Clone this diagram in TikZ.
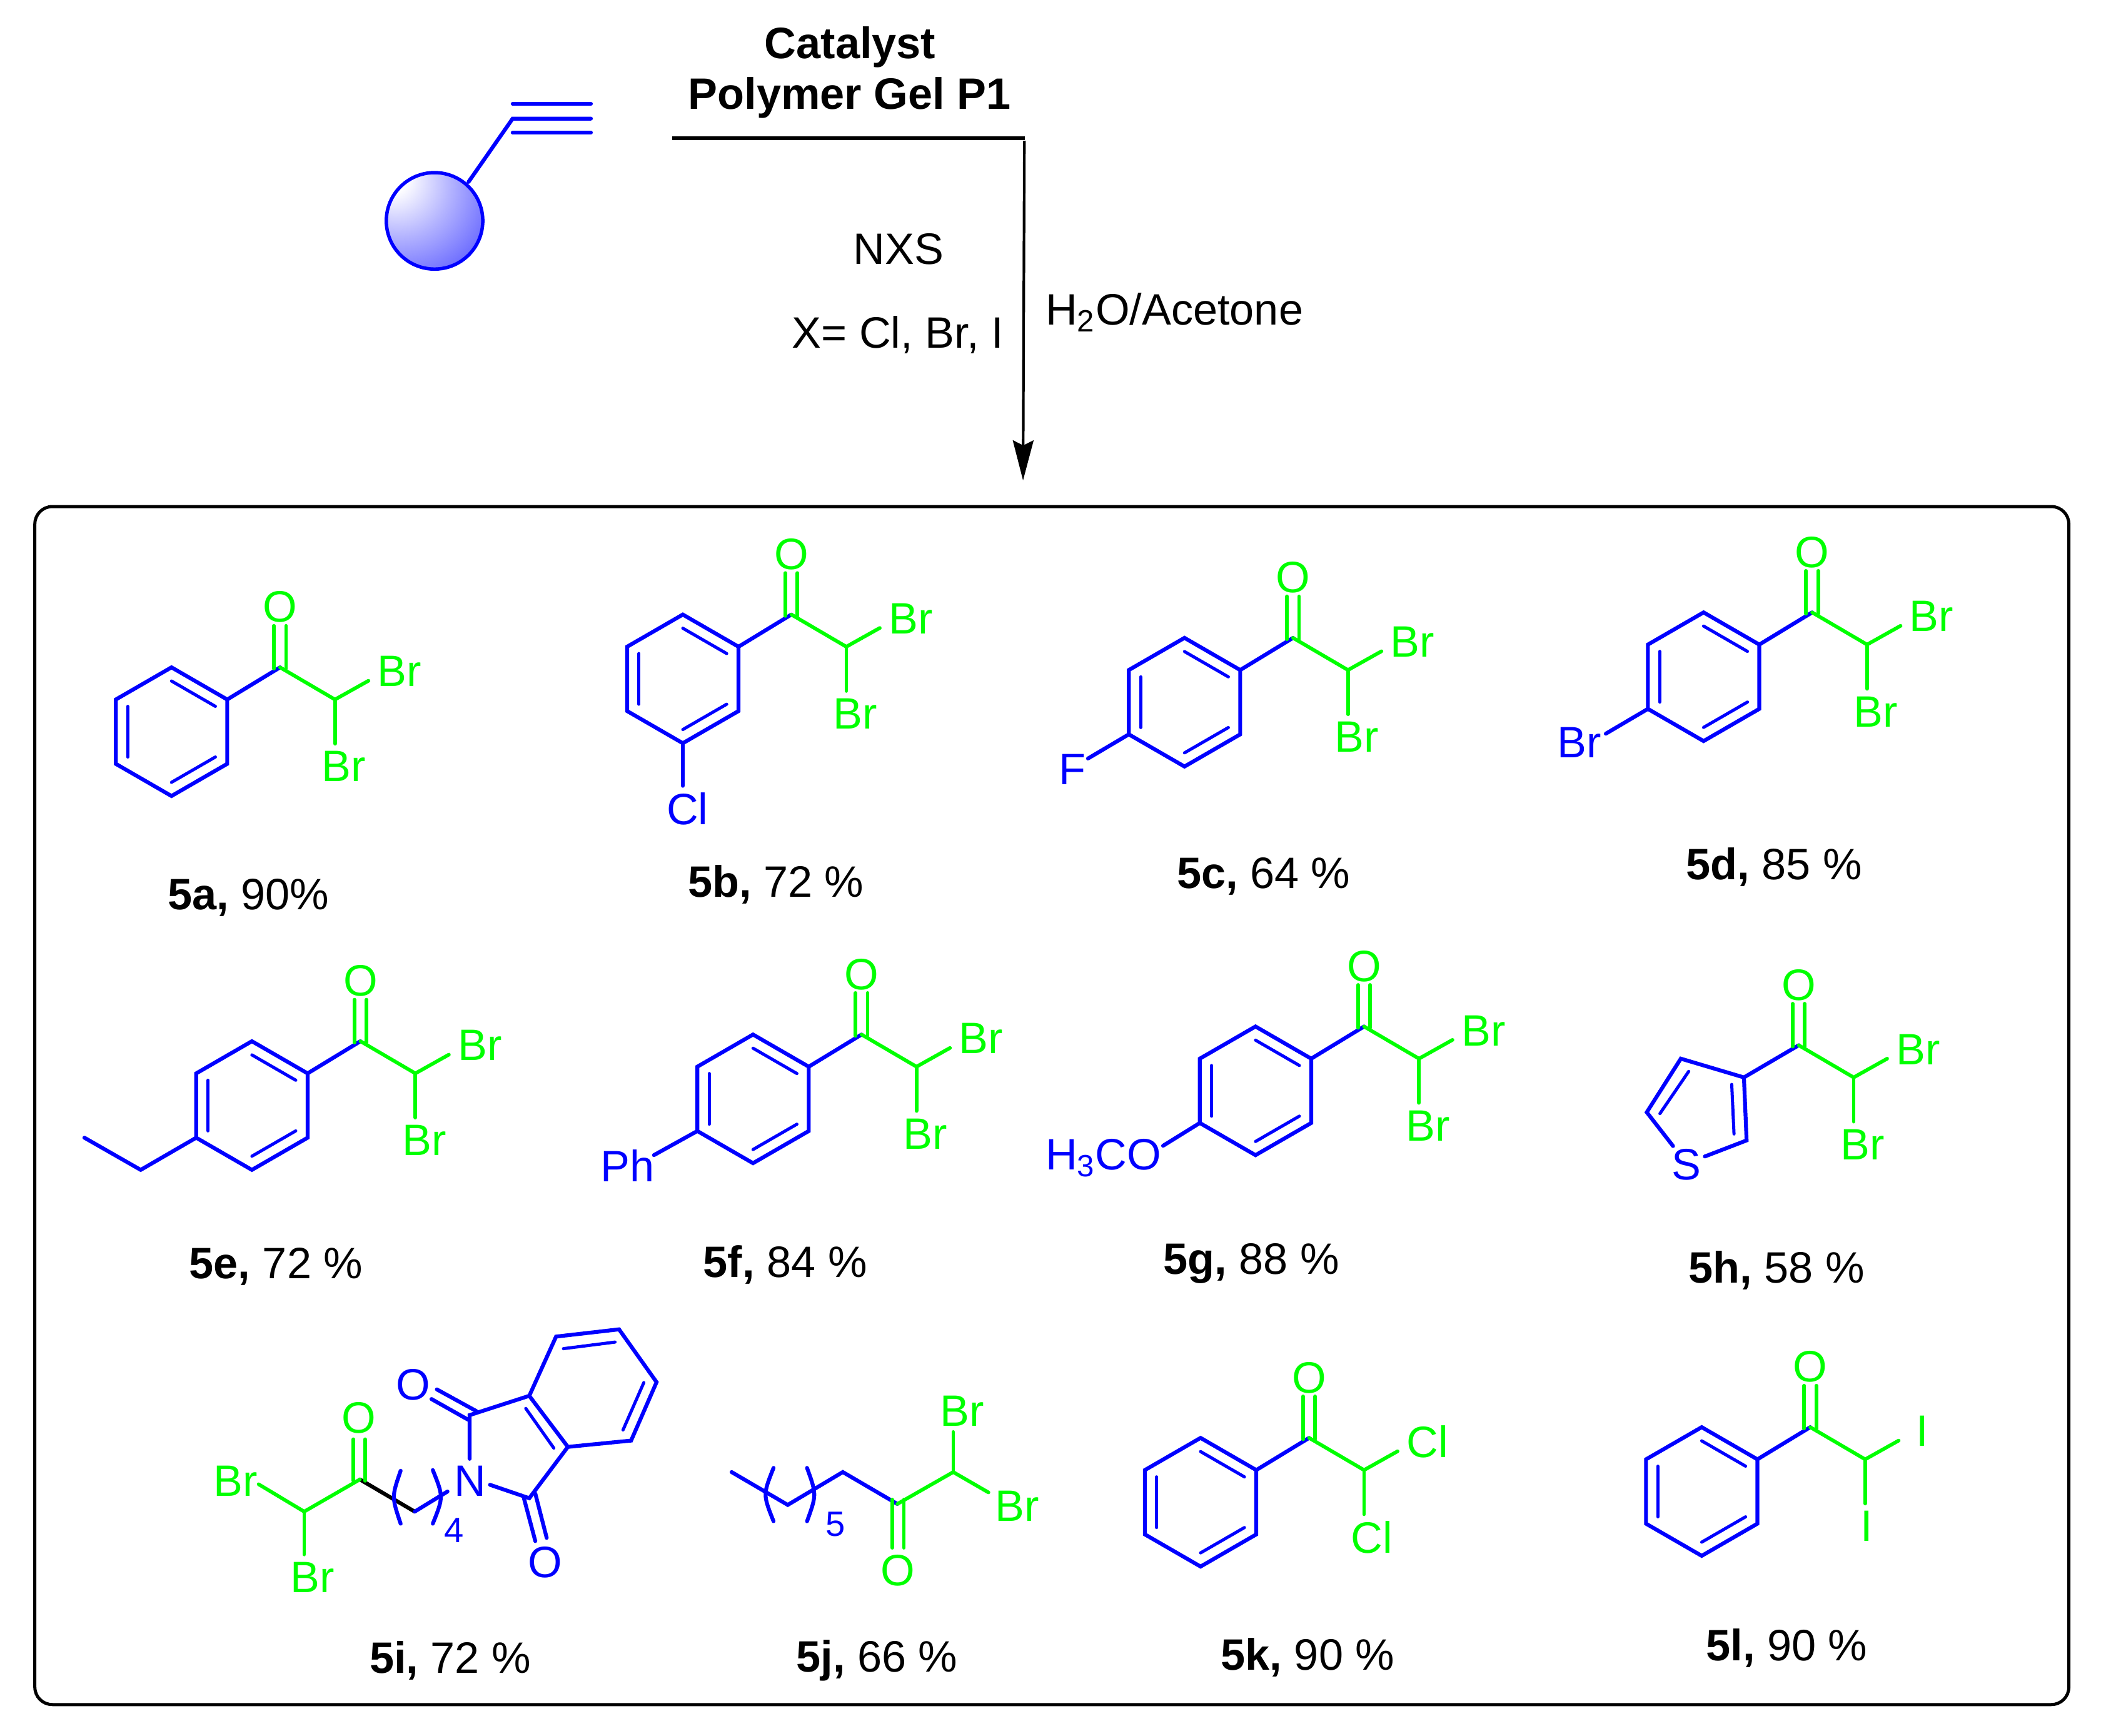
\documentclass[tikz,border=0pt]{standalone}
\usepackage{fontspec}
\setmainfont{Liberation Sans}
\usetikzlibrary{arrows.meta}
\pgfdeclareradialshading{beadfill}{\pgfpoint{-24bp}{24bp}}{color(0bp)=(white); color(8bp)=(white); color(26bp)=(blue!30!white); color(44bp)=(blue!58!white); color(64bp)=(blue); color(100bp)=(blue)}
\tikzset{
  blbond/.style={draw=blue,line width=0.62mm,line cap=round},
  grbond/.style={draw=green,line width=0.58mm,line cap=round},
  inbond/.style={draw=blue,line width=0.5mm,line cap=round},
  bkbond/.style={draw=black,line width=0.62mm,line cap=round},
  bltext/.style={text=blue,inner sep=0pt,font=\fontsize{20}{24}\selectfont},
  grtext/.style={text=green,inner sep=0pt,font=\fontsize{20}{24}\selectfont},
  subtext/.style={text=blue,inner sep=0pt,font=\fontsize{16}{20}\selectfont},
  cond/.style={inner sep=0pt,font=\fontsize{20}{24}\selectfont},
  yield/.style={inner sep=0pt,font=\fontsize{20}{24}\selectfont},
}
% C(=O)CHX2 with the carbonyl carbon at (#1,#2)
\newcommand{\acyl}[5]{
\begin{scope}[shift={(#1,#2)},name prefix=#3]
\coordinate (co) at (0,0);
\coordinate (ch) at (41,24);
\coordinate (xa) at (66,10);
\coordinate (xb) at (41,57);
\draw[grbond] (-4.5,1) -- (-4.5,-31);
\draw[grbond] (4.5,1) -- (4.5,-31);
\draw[grbond] (co) -- (ch) -- (xa);
\draw[grbond] (ch) -- (xb);
\node[grtext] (oxo) at (0,-45) {O};
\node[grtext,anchor=west] (hala) at (72.4+#5,3) {#4};
\node[grtext,anchor=west] (halb) at (30.8+#5,74) {#4};
\end{scope}
}
% benzene ring centred at (#1,#2), then its acyl group
\newcommand{\arylketone}[5]{
\begin{scope}[shift={(#1,#2)},name prefix=#3]
\foreach \a in {1,...,6} \coordinate (v\a) at ({-150+60*\a}:48);
\coordinate (cc) at (81,-48);
\draw[blbond] (v1) -- (v2) -- (v3) -- (v4) -- (v5) -- (v6) -- cycle;
\foreach \a/\b in {-90/-30,30/90,150/210} \draw[inbond] (\a:37.8) -- (\b:37.8);
\draw[blbond] (v2) -- (cc);
\end{scope}
\begin{scope}[shift={(#1,#2)}]
\acyl{81}{-48}{#3}{#4}{#5}
\end{scope}
}

\begin{document}
\begin{tikzpicture}[x=0.2143mm,y=-0.2143mm]
\useasboundingbox (0,0) rectangle (1568,1295.4);
% reaction scheme
\shade[shading=beadfill] (324.3,164.8) circle (37);
\draw[blue,line width=0.55mm] (324.3,164.8) circle (36);
\coordinate (bead) at (349.7,135.7);
\coordinate (yne) at (382.6,88.5);
\coordinate (ynea) at (441,77.5);
\coordinate (yneb) at (441,88.5);
\coordinate (ynec) at (441,99);
\draw[blbond] (bead) -- (yne) -- (yneb);
\draw[blbond] (382.6,77.5) -- (ynea);
\draw[blbond] (382.6,99) -- (ynec);
\node[cond,font=\fontsize{20}{24}\selectfont\bfseries] (cat) at (634.5,35) {Catalyst};
\node[cond,font=\fontsize{20}{24}\selectfont\bfseries] (gel) at (634,73) {Polymer Gel P1};
\node[cond] (nxs) at (670.5,186) {NXS};
\node[cond] (hal) at (670,250) {X= Cl, Br, I};
\node[cond,anchor=west] (solv) at (780,233) {H\textsubscript{2}O/Acetone};
\coordinate (rstart) at (501.6,103);
\coordinate (rcorner) at (765,103);
\coordinate (rtop) at (764.5,105);
\coordinate (rtip) at (763.5,358.5);
\draw[line width=0.6mm] (rstart) -- (rcorner);
\draw[line width=0.42mm,-{Stealth[length=6.4mm,width=3.3mm,inset=0.8mm]}] (rtop) -- (rtip);
\draw[line width=0.5mm,rounded corners=2.8mm] (26,378) rectangle (1544,1272);
% yields
\foreach \n/\t/\x/\y in {5a/90\%/185.5/670,5b/72 \%/579/660,5c/64 \%/943/654,5d/85 \%/1324/647,
  5e/72 \%/206/945,5f/84 \%/586/944,5g/88 \%/934/943,5h/58 \%/1326/948,
  5i/72 \%/336/1239,5j/66 \%/654.5/1239,5k/90 \%/976/1237,5l/90 \%/1333.5/1230}
  \node[yield] (lab\n) at (\x,\y) {\textbf{\n,} \t};
% aryl ketones
\arylketone{128}{546}{a}{Br}{0}
\arylketone{509.6}{506.6}{b}{Br}{0}
\arylketone{884}{524}{c}{Br}{0}
\arylketone{1271.4}{505}{d}{Br}{0}
\arylketone{188}{825}{e}{Br}{0}
\arylketone{562}{820}{f}{Br}{0}
\arylketone{937}{814}{g}{Br}{0}
\arylketone{896}{1121}{k}{Cl}{0}
\arylketone{1270}{1113}{l}{I}{6.5}
% ring substituents
\node[bltext] (cl) at (513,603.5) {Cl};
\draw[blbond] (bv4) -- (509.6,586.4);
\node[bltext] (fl) at (800.5,574) {F};
\draw[blbond] (cv5) -- (812,566);
\node[bltext] (br) at (1178.8,554) {Br};
\draw[blbond] (dv5) -- (1198.4,547.5);
\coordinate (eta) at (105,873);
\coordinate (etb) at (63,849);
\draw[blbond] (ev5) -- (eta) -- (etb);
\node[bltext] (ph) at (468.5,870) {Ph};
\draw[blbond] (fv5) -- (488,862);
\node[bltext] (ome) at (823.5,864) {H\textsubscript{3}CO};
\draw[blbond] (gv5) -- (868,855);
% thiophene
\coordinate (tha) at (1301.5,804);
\coordinate (thb) at (1303.5,851);
\coordinate (thc) at (1229,830);
\coordinate (thd) at (1254.4,790);
\coordinate (the) at (1272.3,863);
\coordinate (thf) at (1248.6,855.2);
\coordinate (hco) at (1342.4,780);
\node[bltext] (sul) at (1258.5,869) {S};
\draw[blbond] (the) -- (thb) -- (tha) -- (thd) -- (thc) -- (thf);
\draw[inbond] (1292.4,809.2) -- (1294.1,846.2);
\draw[inbond] (1260.3,799.5) -- (1238.8,831);
\draw[blbond] (tha) -- (hco);
\acyl{1342.4}{780}{h}{Br}{0}
% 5i
\coordinate (ico) at (268.6,1104);
\coordinate (ich) at (227,1128);
\coordinate (ihal) at (193,1107.6);
\coordinate (ihb) at (227,1160);
\coordinate (icha) at (309.5,1128);
\coordinate (inl) at (334,1113);
\coordinate (inr) at (365.7,1108);
\coordinate (inu) at (350.5,1088.6);
\coordinate (ica) at (350.5,1056);
\coordinate (icb) at (395,1118);
\coordinate (ira) at (395,1041.6);
\coordinate (irb) at (423.8,1079.7);
\coordinate (irc) at (471,1075);
\coordinate (ird) at (490,1031.4);
\coordinate (ire) at (462,992);
\coordinate (irf) at (415,997.4);
\draw[bkbond] (ico) -- (icha);
\draw[grbond] (263.8,1105) -- (263.8,1074);
\draw[grbond] (272.4,1105) -- (272.4,1074);
\draw[grbond] (ihal) -- (ich) -- (ico);
\draw[grbond] (ich) -- (ihb);
\node[grtext] (io) at (268,1058) {O};
\node[grtext] (ibra) at (175.7,1105) {Br};
\node[grtext] (ibrb) at (233,1177) {Br};
\draw[blbond] (icha) -- (inl);
\draw[blbond] (299,1097.5) .. controls (292.3,1117) .. (299,1137);
\draw[blbond] (323,1097) .. controls (331,1117) .. (323,1137);
\node[subtext] (ifour) at (339,1142) {4};
\node[bltext] (inn) at (351,1105) {N};
\draw[blbond] (inu) -- (ica) -- (ira) -- (irb) -- (icb) -- (inr);
\draw[blbond] (ira) -- (irf) -- (ire) -- (ird) -- (irc) -- (irb);
\draw[inbond] (392.4,1051) -- (413.3,1080.6);
\draw[inbond] (480.5,1031.7) -- (465,1067);
\draw[inbond] (459,1001.5) -- (420.5,1006.4);
\draw[blbond] (322,1044) -- (349.5,1059.5);
\draw[blbond] (326,1036.8) -- (355.5,1053);
\node[bltext] (ioa) at (308.6,1033.5) {O};
\draw[blbond] (391,1118) -- (399.5,1150);
\draw[blbond] (399.5,1114.5) -- (408,1147.6);
\node[bltext] (iob) at (407,1166) {O};
% 5j
\coordinate (jme) at (546,1098.5);
\coordinate (jca) at (587.9,1123);
\coordinate (jcb) at (629,1098.5);
\coordinate (jco) at (669.7,1122.3);
\coordinate (jch) at (711.4,1098.5);
\coordinate (jxa) at (711.4,1068.6);
\coordinate (jxb) at (737.7,1113.7);
\draw[blbond] (jme) -- (jca) -- (jcb) -- (jco);
\draw[blbond] (577.3,1095.4) .. controls (569.4,1115.3) .. (577.3,1135.2);
\draw[blbond] (602.3,1095.4) .. controls (609.5,1115.3) .. (602.3,1135.2);
\node[subtext] (jfive) at (623.3,1137.4) {5};
\draw[grbond] (jco) -- (jch) -- (jxb);
\draw[grbond] (jch) -- (jxa);
\draw[grbond] (665.8,1119) -- (665.8,1155);
\draw[grbond] (674.6,1119) -- (674.6,1155);
\node[grtext] (jo) at (670,1171.7) {O};
\node[grtext] (jbra) at (718,1053) {Br};
\node[grtext] (jbrb) at (759,1124) {Br};
\end{tikzpicture}
\end{document}
